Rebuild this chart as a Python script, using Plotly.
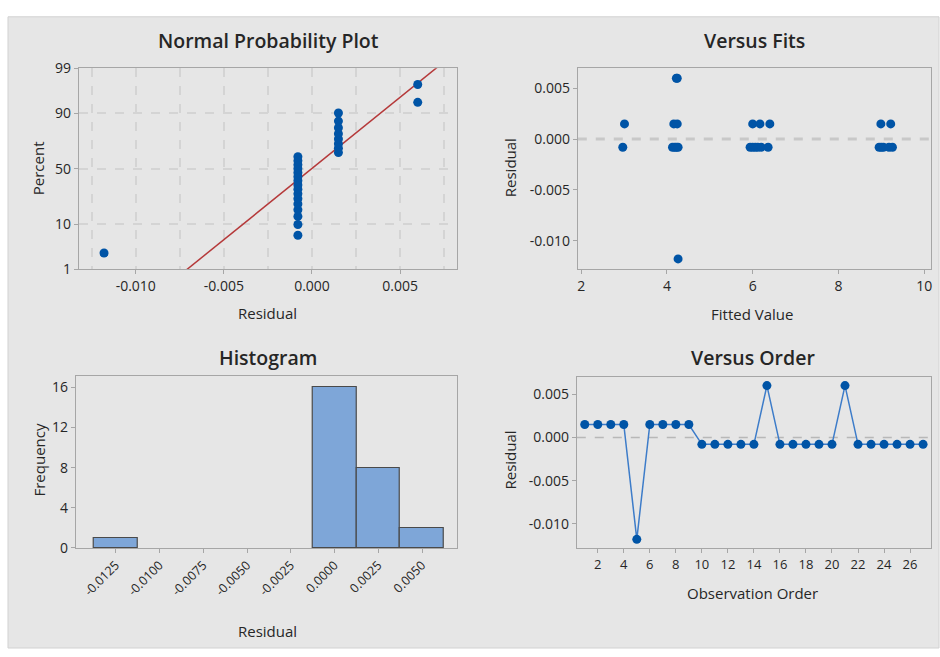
import plotly.graph_objects as go
from statistics import NormalDist, mean, stdev

# ---------------- data ----------------
observation = list(range(1, 28))
residuals = [0.0015, 0.0015, 0.0015, 0.0015, -0.0118,
             0.0015, 0.0015, 0.0015, 0.0015,
             -0.0008, -0.0008, -0.0008, -0.0008, -0.0008,
             0.0060,
             -0.0008, -0.0008, -0.0008, -0.0008, -0.0008,
             0.0060,
             -0.0008, -0.0008, -0.0008, -0.0008, -0.0008, -0.0008]
fitted = [3.01, 4.16, 6.00, 8.99, 4.26,
          4.24, 6.17, 6.40, 9.22,
          2.97, 4.13, 5.94, 8.95, 4.18,
          4.22,
          6.00, 9.00, 4.22, 6.06, 9.05,
          4.24,
          6.12, 9.18, 4.26, 6.20, 6.36, 9.26]

pct_ticks = [1, 10, 50, 90, 99]
pct_ticktext = ["1", "10", "50", "90", "99"]
npp_xticks = [-0.010, -0.005, 0.0, 0.005]
npp_xticktext = ["-0.010", "-0.005", "0.000", "0.005"]
res_yticks = [0.005, 0.0, -0.005, -0.010]
res_yticktext = ["0.005", "0.000", "-0.005", "-0.010"]
hist_xticks = [-0.0125, -0.0100, -0.0075, -0.0050, -0.0025, 0.0, 0.0025, 0.0050]
hist_xticktext = ["-0.0125", "-0.0100", "-0.0075", "-0.0050", "-0.0025", "0.0000", "0.0025", "0.0050"]
freq_ticks = [0, 4, 8, 12, 16]
fit_ticks = [2, 4, 6, 8, 10]
order_ticks = list(range(2, 27, 2))

# ---------------- derived (probability scale) ----------------
nd = NormalDist()
n = len(residuals)
sorted_res = sorted(residuals)
plot_pos = [(i - 0.3) / (n + 0.4) for i in range(1, n + 1)]  # Benard median ranks
z_pts = [nd.inv_cdf(p) for p in plot_pos]
mu, sd = mean(residuals), stdev(residuals)
z_lo, z_hi = nd.inv_cdf(0.01), nd.inv_cdf(0.99)
line_z = [z_lo - 0.2, z_hi + 0.2]
line_x = [mu + sd * z for z in line_z]

W, H = 940, 657
def px(x):
    return x / W
def py(y):
    return 1 - y / H

BLUE = "#0054a6"
FONT = "Open Sans"
TXT = "#262626"
FRAME = "#a6a6a6"
GRID = "#d4d4d4"

fig = go.Figure()

# Normal probability plot
fig.add_trace(go.Scatter(x=line_x, y=line_z, mode="lines",
                         line=dict(color="#b5393a", width=1.5),
                         xaxis="x", yaxis="y", cliponaxis=True))
fig.add_trace(go.Scatter(x=sorted_res, y=z_pts, mode="markers",
                         marker=dict(color=BLUE, size=9),
                         xaxis="x", yaxis="y"))

# Versus fits
fig.add_trace(go.Scatter(x=[1.92, 10.16], y=[0, 0], mode="lines",
                         line=dict(color="#c8c8c8", width=3, dash="dash"),
                         xaxis="x2", yaxis="y2"))
fig.add_trace(go.Scatter(x=fitted, y=residuals, mode="markers",
                         marker=dict(color=BLUE, size=9),
                         xaxis="x2", yaxis="y2"))

# Histogram
fig.add_trace(go.Histogram(x=residuals,
                           xbins=dict(start=-0.01375, end=0.00625, size=0.0025),
                           marker=dict(color="#7ea6d8", line=dict(color="#4a4a4a", width=1.2)),
                           xaxis="x3", yaxis="y3"))

# Versus order
fig.add_trace(go.Scatter(x=[0.387, 27.61], y=[0, 0], mode="lines",
                         line=dict(color="#b8b8b8", width=1.5, dash="dash"),
                         xaxis="x4", yaxis="y4"))
fig.add_trace(go.Scatter(x=observation, y=residuals, mode="lines+markers",
                         line=dict(color="#3d7cc9", width=1.5),
                         marker=dict(color=BLUE, size=9),
                         xaxis="x4", yaxis="y4"))

def axis_common(**kw):
    d = dict(showline=True, mirror=True, linecolor=FRAME, linewidth=1,
             ticks="outside", ticklen=4, tickcolor=FRAME, zeroline=False,
             showgrid=False, tickfont=dict(family=FONT, size=14, color=TXT),
             fixedrange=True)
    d.update(kw)
    return d

layout = dict(
    width=W, height=H, margin=dict(l=0, r=0, t=0, b=0),
    paper_bgcolor="white", plot_bgcolor="white", showlegend=False,
    bargap=0,
    xaxis=axis_common(domain=[px(78), px(457)], anchor="y",
                      range=[-0.01323, 0.00823], tickvals=npp_xticks, ticktext=npp_xticktext,
                      minor=dict(dtick=0.0025, tick0=0, showgrid=True, gridcolor=GRID,
                                 griddash="dash", gridwidth=1.5, ticks="")),
    yaxis=axis_common(domain=[py(267), py(60)], anchor="x",
                      range=[z_lo, z_hi], tickvals=[nd.inv_cdf(p / 100) for p in pct_ticks],
                      ticktext=pct_ticktext, showgrid=True, gridcolor=GRID,
                      griddash="dash", gridwidth=1.5),
    xaxis2=axis_common(domain=[px(578), px(932)], anchor="y2",
                       range=[1.92, 10.16], tickvals=fit_ticks),
    yaxis2=axis_common(domain=[py(267), py(60)], anchor="x2",
                       range=[-0.01282, 0.00698], tickvals=res_yticks, ticktext=res_yticktext),
    xaxis3=axis_common(domain=[px(75), px(457)], anchor="y3",
                       range=[-0.01478, 0.0070], tickvals=hist_xticks, ticktext=hist_xticktext,
                       tickangle=-45, tickfont=dict(family=FONT, size=12.5, color=TXT)),
    yaxis3=axis_common(domain=[py(554), py(377)], anchor="x3",
                       range=[0, 17.12], tickvals=freq_ticks),
    xaxis4=axis_common(domain=[px(577), px(932)], anchor="y4",
                       range=[0.387, 27.61], tickvals=order_ticks,
                       tickfont=dict(family=FONT, size=13, color=TXT)),
    yaxis4=axis_common(domain=[py(554), py(378)], anchor="x4",
                       range=[-0.0128, 0.00699], tickvals=res_yticks, ticktext=res_yticktext),
)
fig.update_layout(**layout)

# gray panel background
fig.add_shape(type="rect", xref="paper", yref="paper", x0=px(7), x1=1.0, y0=0, y1=py(7),
              fillcolor="#e6e6e6", line=dict(color="#d2d2d2", width=1), layer="below")

def ann(text, x, y, size=15, angle=0, weight="normal"):
    fig.add_annotation(text=text, x=px(x), y=py(y), xref="paper", yref="paper",
                       showarrow=False, xanchor="center", yanchor="middle",
                       textangle=angle,
                       font=dict(family=FONT, size=size, color=TXT, weight=weight))

# titles
ann("Normal Probability Plot", 268, 31, size=19.5, weight=600)
ann("Versus Fits", 755, 31, size=19.5, weight=600)
ann("Histogram", 268, 358, size=19.5, weight=600)
ann("Versus Order", 754, 358, size=19.5, weight=600)
# axis titles
ann("Residual", 267, 312)
ann("Percent", 37, 163, angle=-90)
ann("Fitted Value", 753, 313)
ann("Residual", 510, 162, angle=-90)
ann("Residual", 267, 640)
ann("Frequency", 38, 463, angle=-90)
ann("Observation Order", 753, 600)
ann("Residual", 510, 463, angle=-90)

fig.write_html("out.html")
